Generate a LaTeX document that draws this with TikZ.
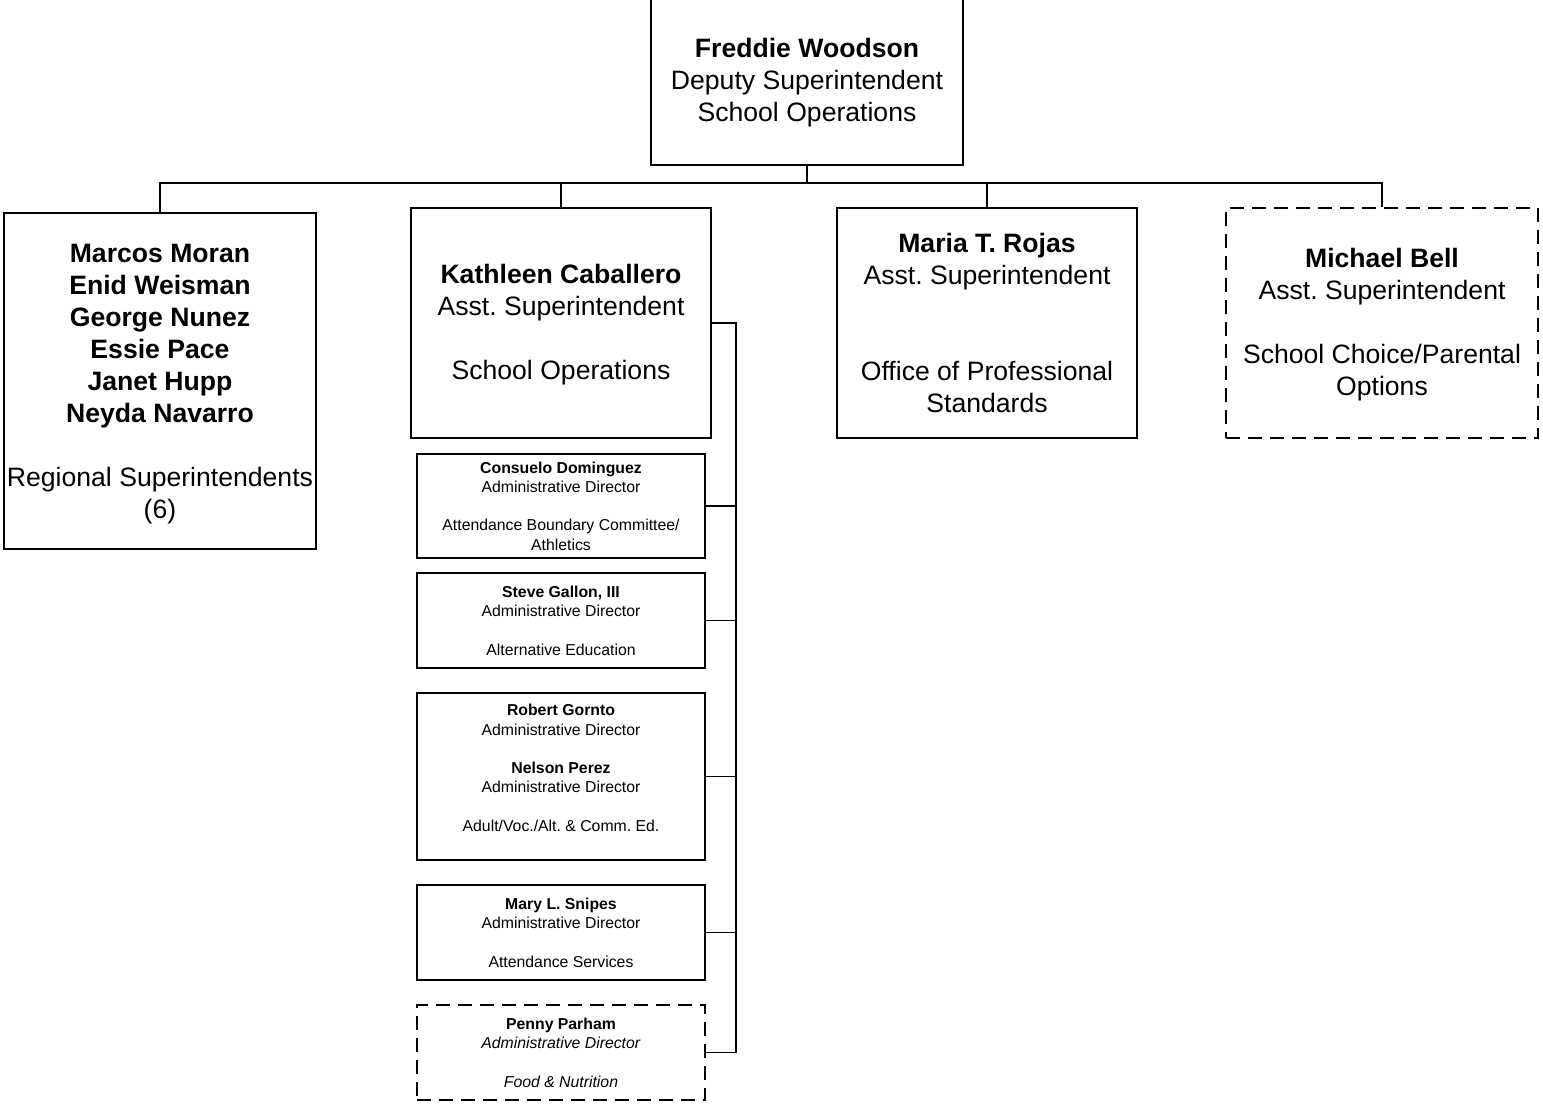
\documentclass[tikz,border=0pt]{standalone}
\usepackage{fontspec}
\setmainfont{Liberation Sans}
\frenchspacing
% extra room above the first line of the large boxes
\newcommand\headroom{\rule{0pt}{23.5pt}}
\begin{document}
\begin{tikzpicture}[x=1pt,y=-1pt,
  box/.style={draw,line width=1.5pt,rectangle,inner sep=0pt,align=center,
    font=\fontsize{26.6}{32}\selectfont},
  small/.style={box,minimum width=288pt,font=\fontsize{15.8}{19.3}\selectfont},
  tentative/.style={dash pattern=on 14pt off 8pt},
  link/.style={line width=1.5pt}]
\useasboundingbox (0,0) rectangle (1543,1111);

% top level
\node[box,minimum width=312pt,minimum height=169pt] (fw) at (807,80.5)
  {\headroom\textbf{Freddie Woodson}\\Deputy Superintendent\\School Operations};

% second level
\node[box,minimum width=312pt,minimum height=336pt] (rs) at (160,381)
  {\headroom\textbf{Marcos Moran}\\\textbf{Enid Weisman}\\\textbf{George Nunez}\\
   \textbf{Essie Pace}\\\textbf{Janet Hupp}\\\textbf{Neyda Navarro}\\\strut\\
   Regional Superintendents\\(6)};
\node[box,minimum width=300pt,minimum height=230pt] (kc) at (561,323)
  {\headroom\textbf{Kathleen Caballero}\\Asst. Superintendent\\\strut\\School Operations};
\node[box,minimum width=300pt,minimum height=230pt] (mr) at (987,323)
  {\textbf{Maria T. Rojas}\\Asst. Superintendent\\\strut\\\strut\\
   Office of Professional\\Standards};
\node[box,tentative,minimum width=312pt,minimum height=230pt] (mb) at (1382,323)
  {\headroom\textbf{Michael Bell}\\Asst. Superintendent\\\strut\\
   School Choice/Parental\\Options};

% directors under School Operations
\node[small,minimum height=104pt] (cd) at (561,506)
  {\textbf{Consuelo Dominguez}\\Administrative Director\\\strut\\
   Attendance Boundary Committee/\\Athletics};
\node[small,minimum height=95pt] (sg) at (561,620.5)
  {\textbf{Steve Gallon, III}\\Administrative Director\\\strut\\Alternative Education};
\node[small,minimum height=167pt] (rg) at (561,776.5)
  {\textbf{Robert Gornto}\\Administrative Director\\\strut\\
   \textbf{Nelson Perez}\\Administrative Director\\\strut\\
   Adult/Voc./Alt. \& Comm. Ed.\\[-8pt]\strut};
\node[small,minimum height=95pt] (ms) at (561,932.5)
  {\textbf{Mary L. Snipes}\\Administrative Director\\\strut\\Attendance Services};
\node[small,tentative,minimum height=95pt] (pp) at (561,1052.5)
  {\textbf{Penny Parham}\\\textit{Administrative Director}\\\strut\\
   \textit{Food \& Nutrition}};

% connectors
\coordinate (bus) at (807,183);
\coordinate (rail) at (736,0);
\draw[link] (fw.south) -- (bus);
\draw[link] (rs.north) -- (rs.north |- bus) -- (mb.north |- bus) -- (mb.north);
\draw[link] (kc.north) -- (kc.north |- bus);
\draw[link] (mr.north) -- (mr.north |- bus);
\draw[link] (kc.east) -- (kc.east -| rail) -- (pp.east -| rail) -- (pp.east);
\draw[link] (cd.east) -- (cd.east -| rail);
\draw[link] (sg.east) -- (sg.east -| rail);
\draw[link] (rg.east) -- (rg.east -| rail);
\draw[link] (ms.east) -- (ms.east -| rail);
\end{tikzpicture}
\end{document}
